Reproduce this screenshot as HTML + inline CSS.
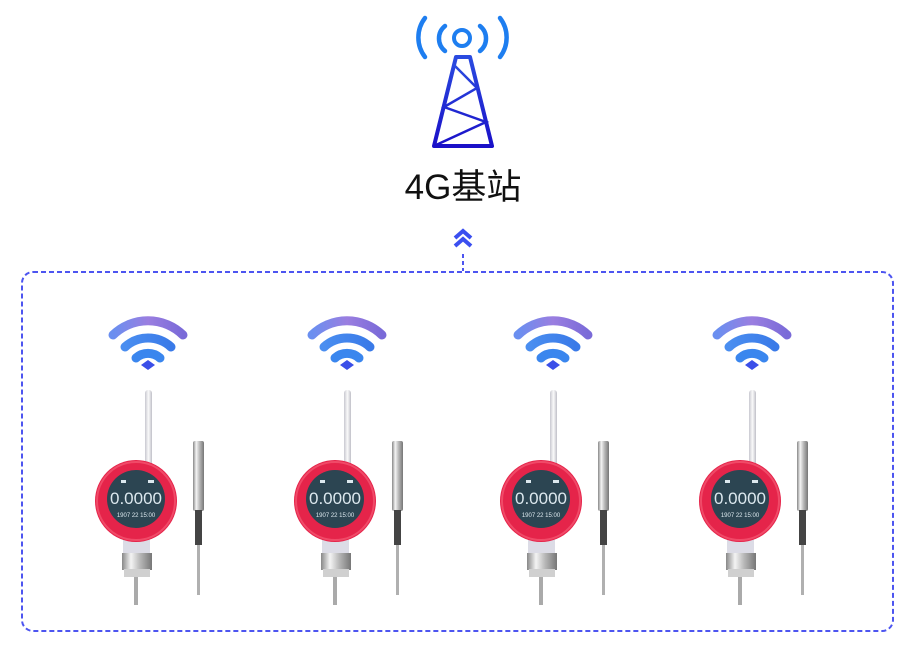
<!DOCTYPE html>
<html><head><meta charset="utf-8"><style>
html,body{margin:0;padding:0;background:#fff;width:918px;height:649px;overflow:hidden}
svg{display:block}
</style></head><body>
<svg width="918" height="649" viewBox="0 0 918 649" xmlns="http://www.w3.org/2000/svg">
<defs>
<linearGradient id="tw" x1="0" y1="0" x2="0" y2="1"><stop offset="0" stop-color="#2a4be0"/><stop offset="1" stop-color="#1a10c8"/></linearGradient>
<linearGradient id="w1" x1="0" y1="0" x2="1" y2="0"><stop offset="0" stop-color="#6a8ff0"/><stop offset="0.5" stop-color="#9a7ee0"/><stop offset="1" stop-color="#7a6ad8"/></linearGradient>
<linearGradient id="w2" x1="0" y1="0" x2="1" y2="0"><stop offset="0" stop-color="#4a8ef0"/><stop offset="1" stop-color="#3a7ae8"/></linearGradient>
<linearGradient id="met" x1="0" y1="0" x2="1" y2="0"><stop offset="0" stop-color="#888"/><stop offset="0.3" stop-color="#f4f4f4"/><stop offset="0.6" stop-color="#b8b8b8"/><stop offset="1" stop-color="#777"/></linearGradient>
<linearGradient id="ant" x1="0" y1="0" x2="1" y2="0"><stop offset="0" stop-color="#c8c8d0"/><stop offset="0.5" stop-color="#fafafa"/><stop offset="1" stop-color="#c0c0c8"/></linearGradient>
<g id="dev">
  <path d="M113,335 A50,50 0 0 1 183,335" fill="none" stroke="url(#w1)" stroke-width="9" stroke-linecap="round"/>
  <path d="M125,347 A34,34 0 0 1 171,347" fill="none" stroke="url(#w2)" stroke-width="9" stroke-linecap="round"/>
  <path d="M136,358 A18,18 0 0 1 160,358" fill="none" stroke="#3a86ee" stroke-width="9" stroke-linecap="round"/>
  <path d="M141,365 L148,360 L155,365 L148,370 Z" fill="#3b4fe8"/>
  <rect x="145" y="390" width="7" height="80" rx="3" fill="url(#ant)"/>
  <rect x="123" y="534" width="27" height="20" fill="#dcdce6"/>
  <rect x="122" y="553" width="30" height="17" fill="url(#met)"/>
  <rect x="124" y="569" width="26" height="8" fill="#d0d0d0"/>
  <rect x="134" y="577" width="4" height="28" fill="#aaa"/>
  <circle cx="136" cy="501" r="41" fill="#e5244a"/>
  <circle cx="136" cy="501" r="39" fill="none" stroke="#f04a68" stroke-width="2"/>
  <circle cx="136" cy="499" r="29" fill="#2c4552"/>
  <text x="136" y="504" font-family="Liberation Sans Narrow, Liberation Sans, sans-serif" font-size="17" fill="#dce8ee" text-anchor="middle">0.0000</text>
  <text x="136" y="517" font-family="Liberation Sans, sans-serif" font-size="6" fill="#dce8ee" text-anchor="middle">1907 22  15:00</text>
  <rect x="148" y="480" width="6" height="3" fill="#dce8ee"/>
  <rect x="121" y="480" width="5" height="3" fill="#dce8ee"/>
  <rect x="193" y="441" width="11" height="70" rx="2" fill="url(#met)"/>
  <rect x="195" y="510" width="7" height="35" fill="#444"/>
  <rect x="197" y="545" width="3" height="50" fill="#b0b0b0"/>
</g>
</defs>

<g fill="none" stroke-linecap="round">
  <circle cx="462" cy="38" r="8" stroke="#1e7ef0" stroke-width="4"/>
  <path d="M445,26 A16,16 0 0 0 445,51" stroke="#1e7ef0" stroke-width="4.5"/>
  <path d="M480,26 A16,16 0 0 1 480,51" stroke="#1e7ef0" stroke-width="4.5"/>
  <path d="M425,18 A32,32 0 0 0 425,57" stroke="#1e7ef0" stroke-width="4.5"/>
  <path d="M500,18 A32,32 0 0 1 500,57" stroke="#1e7ef0" stroke-width="4.5"/>
  <path d="M456,57 L470,57 L492,146 L434,146 Z" stroke="url(#tw)" stroke-width="4" stroke-linejoin="round"/>
  <path d="M454,65 L477,88 L444,107 L486,122 L436,145" stroke="url(#tw)" stroke-width="2.5"/>
</g>
<text x="463" y="199" font-family="Liberation Sans, 'Noto Sans CJK SC', sans-serif" font-size="35" fill="#111" text-anchor="middle">4G基站</text>
<path d="M455,238 L463,231 L471,238 M455,246 L463,239 L471,246" fill="none" stroke="#3b4ff0" stroke-width="4"/>
<line x1="463" y1="254" x2="463" y2="271" stroke="#4d55f0" stroke-width="2" stroke-dasharray="4,3"/>

<rect x="22" y="272" width="871" height="359" rx="11" fill="none" stroke="#4d55f0" stroke-width="2" stroke-dasharray="5,3"/>

<use href="#dev"/>
<use href="#dev" transform="translate(199,0)"/>
<use href="#dev" transform="translate(405,0)"/>
<use href="#dev" transform="translate(604,0)"/>
</svg>
</body></html>
